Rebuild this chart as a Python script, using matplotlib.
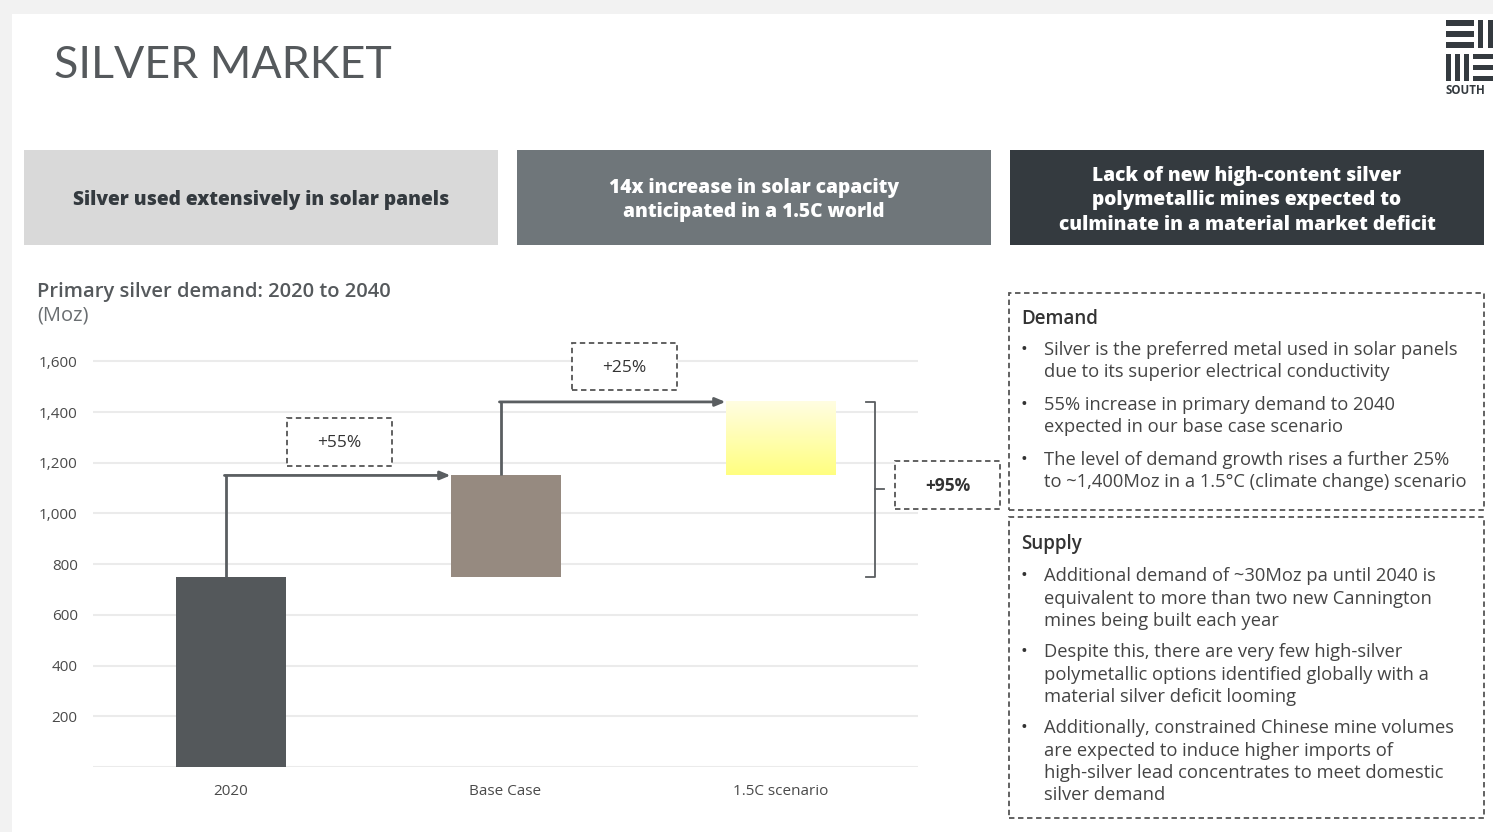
import numpy as np
import matplotlib
matplotlib.use("Agg")
import matplotlib.pyplot as plt
from matplotlib import patches

# data
categories = ["2020", "Base Case", "1.5C scenario"]
bar_bottom = [0, 750, 1150]
bar_top = [750, 1150, 1440]
step_labels = ["+55%", "+25%"]
total_label = "+95%"
yticks = [0, 200, 400, 600, 800, 1000, 1200, 1400, 1600]
ytick_labels = ["", "200", "400", "600", "800", "1,000", "1,200", "1,400", "1,600"]

banners = ["Silver used extensively in solar panels",
           "14x increase in solar capacity\nanticipated in a 1.5C world",
           "Lack of new high-content silver\npolymetallic mines expected to\nculminate in a material market deficit"]

demand_points = ["Silver is the preferred metal used in solar panels\ndue to its superior electrical conductivity",
                 "55% increase in primary demand to 2040\nexpected in our base case scenario",
                 "The level of demand growth rises a further 25%\nto ~1,400Moz in a 1.5°C (climate change) scenario"]
supply_points = ["Additional demand of ~30Moz pa until 2040 is\nequivalent to more than two new Cannington\nmines being built each year",
                 "Despite this, there are very few high-silver\npolymetallic options identified globally with a\nmaterial silver deficit looming",
                 "Additionally, constrained Chinese mine volumes\nare expected to induce higher imports of\nhigh-silver lead concentrates to meet domestic\nsilver demand"]

W, H = 1493, 832
BODY = ['Open Sans', 'DejaVu Sans']
plt.rcParams['font.family'] = BODY
fig = plt.figure(figsize=(W / 100, H / 100), dpi=100)
fig.patch.set_facecolor("white")


def fx(x):
    return x / W


def fy(y):
    return 1 - y / H


def rect(x0, y0, x1, y1, **kw):
    fig.patches.append(patches.Rectangle((fx(x0), fy(y1)), fx(x1) - fx(x0), fy(y0) - fy(y1),
                                         transform=fig.transFigure, figure=fig, **kw))


# slide shadow edges
rect(0, 0, W, 14, facecolor="#f2f2f2", edgecolor="none")
rect(0, 0, 12, H, facecolor="#f2f2f2", edgecolor="none")

DARK = "#54585b"
fig.text(fx(54), fy(66), "SILVER MARKET", fontsize=32.2, color="#55595c",
         family=['Lato', 'DejaVu Sans'], va="center", ha="left")

# logo
LOGO = "#343a3f"
for yy in (20, 31, 42):
    rect(1446, yy, 1474, yy + 6, facecolor=LOGO, edgecolor="none")
for xx in (1478, 1488):
    rect(xx, 20, xx + 5, 48, facecolor=LOGO, edgecolor="none")
for xx in (1446, 1455, 1464):
    rect(xx, 54, xx + 5, 81, facecolor=LOGO, edgecolor="none")
for yy in (54, 65, 76):
    rect(1473, yy, W, yy + 5, facecolor=LOGO, edgecolor="none")
fig.text(fx(1446), fy(91), "SOUTH", fontsize=8.3, fontweight="bold", color=LOGO,
         va="center", ha="left")

# banners
banner_x = [(24, 498), (517, 991), (1010, 1484)]
banner_bg = ["#d9d9d9", "#6f767a", "#343a3f"]
banner_fg = ["#343a3f", "white", "white"]
for (x0, x1), bg, fg, txt in zip(banner_x, banner_bg, banner_fg, banners):
    rect(x0, 150, x1, 245, facecolor=bg, edgecolor="none")
    lines = txt.split("\n")
    n = len(lines)
    for k, line in enumerate(lines):
        yc = 200 + (k - (n - 1) / 2) * 24.5
        fig.text(fx((x0 + x1) / 2), fy(yc), line, fontsize=13.8, fontweight="heavy",
                 color=fg, ha="center", va="center")

# chart header
fig.text(fx(37), fy(292), "Primary silver demand: 2020 to 2040", fontsize=14.5,
         fontweight="semibold", color="#55595c", va="center")
fig.text(fx(37), fy(315), "(Moz)", fontsize=14.5, color="#6a6e71", va="center")

# chart
ax = fig.add_axes([fx(93), fy(767), fx(918) - fx(93), fy(336) - fy(767)])
x = np.arange(len(categories))
heights = [t - b for t, b in zip(bar_top, bar_bottom)]
ax.bar(x[:2], heights[:2], bottom=bar_bottom[:2], width=0.4,
       color=[DARK, "#968a80"], zorder=3)

# gradient bar for 1.5C scenario
grad = np.linspace(0, 1, 100).reshape(-1, 1)
cmap = matplotlib.colors.LinearSegmentedColormap.from_list("yl", ["#ffff80", "#fffde2"])
ax.imshow(grad, cmap=cmap, aspect="auto", origin="lower", zorder=3,
          extent=[x[2] - 0.2, x[2] + 0.2, bar_bottom[2], bar_top[2]])
ax.set_xlim(-0.5, 2.5)
ax.set_ylim(0, 1700)

ax.set_yticks(yticks)
ax.set_yticklabels(ytick_labels)
ax.set_xticks(x)
ax.set_xticklabels(categories)
ax.grid(axis="y", color="#ebebeb", lw=1.5, zorder=0)
for s in ax.spines.values():
    s.set_visible(False)
ax.tick_params(axis="y", length=0, pad=11, labelsize=11, labelcolor="#4a4a4a")
ax.tick_params(axis="x", length=0, pad=12, labelsize=11, labelcolor="#4a4a4a")

# connectors: up from each bar top, across to the next bar
for i in range(2):
    xs = x[i] - 0.018
    ax.plot([xs, xs], [bar_top[i], bar_top[i + 1]],
            color="#5a5e61", lw=2, zorder=4, solid_capstyle="butt")
    ax.annotate("", xy=(x[i + 1] - 0.2, bar_top[i + 1]), xytext=(xs - 0.004, bar_top[i + 1]),
                arrowprops=dict(arrowstyle="-|>,head_length=0.6,head_width=0.25",
                                color="#5a5e61", lw=2, shrinkA=0, shrinkB=0), zorder=4)

# bracket
bx = 2.345
ax.plot([bx - 0.035, bx, bx, bx - 0.035], [bar_top[2], bar_top[2], bar_top[0], bar_top[0]],
        color="#5a5e61", lw=1.3, clip_on=False)
mid = (bar_top[2] + bar_top[0]) / 2
ax.plot([bx, bx + 0.033], [mid, mid], color="#5a5e61", lw=1.3, clip_on=False)

# dashed label boxes
dash = dict(facecolor="white", edgecolor="#555555", lw=1.3, linestyle=(0, (3, 2)))
for (x0, y0, x1, y1), txt, wt in [((287, 418, 392, 466), step_labels[0], "normal"),
                                  ((572, 343, 677, 390), step_labels[1], "normal"),
                                  ((895, 461, 1000, 509), total_label, "bold")]:
    rect(x0, y0, x1, y1, **dash)
    fig.text(fx((x0 + x1) / 2), fy((y0 + y1) / 2 + 1), txt, fontsize=12.5, color="#333333",
             fontweight=wt, ha="center", va="center")

# right text boxes
rect(1009, 293, 1484, 510, **dash)
rect(1009, 517, 1484, 818, **dash)


def bullets(title, y_title, points, y_first, line_gap, item_gap):
    fig.text(fx(1021), fy(y_title), title, fontsize=13.5, fontweight="semibold",
             color="#333333", va="center")
    y = y_first
    for p in points:
        fig.text(fx(1021), fy(y), "•", fontsize=13, color="#333333", va="center")
        for line in p.split("\n"):
            fig.text(fx(1044), fy(y), line, fontsize=13.2, color="#444444", va="center")
            y += line_gap
        y += item_gap - line_gap


bullets("Demand", 319, demand_points, 350, 22, 33)
bullets("Supply", 544, supply_points, 576, 22.5, 31)

fig.savefig("out.png", dpi=100, facecolor="white")
